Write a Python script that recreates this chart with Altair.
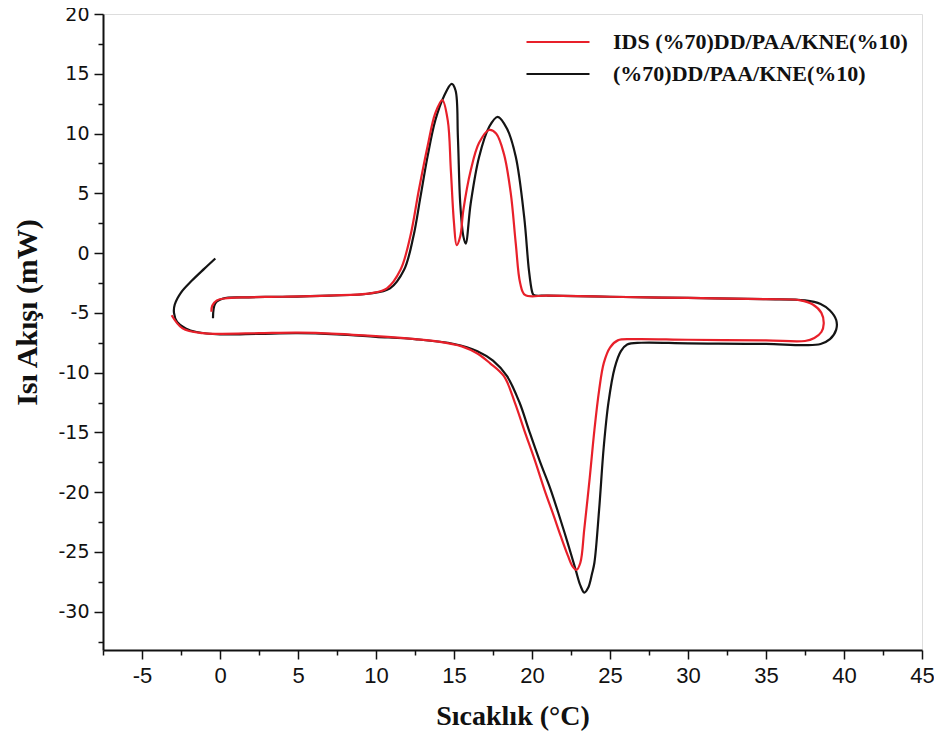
import altair as alt
import pandas as pd

RED_NAME = "IDS (%70)DD/PAA/KNE(%10)"
BLK_NAME = "(%70)DD/PAA/KNE(%10)"

# Black curve (without IDS): path order
blk_x = [-0.3, -1.0, -1.8, -2.5, -2.9, -2.95, -2.75, -2.2, -1.5, 0.0, 2.5, 5.0, 7.5, 10.0, 12.5, 15.0,
         16.5, 17.5, 18.4, 19.2, 19.8, 20.5, 21.2, 21.8, 22.3, 22.8, 23.1, 23.35, 23.6, 23.85, 24.0,
         24.3, 24.6, 24.9, 25.3, 25.7, 26.1, 27.0, 30.0, 35.0, 37.5, 38.5, 39.1, 39.5, 39.5, 39.1,
         38.5, 37.5, 35.0, 30.0, 25.0, 21.0, 20.1, 20.0, 19.8, 19.5, 18.96, 18.4, 17.8, 17.25, 16.6,
         16.07, 15.75, 15.6, 15.4, 15.25, 15.1, 14.85, 14.35, 13.8, 13.3, 12.85, 12.4, 11.8, 10.9,
         9.5, 7.0, 4.0, 1.5, 0.2, -0.3, -0.45]
blk_y = [-0.45, -1.3, -2.3, -3.3, -4.3, -5.0, -5.75, -6.3, -6.6, -6.8, -6.75, -6.7, -6.8, -7.0, -7.2, -7.6,
         -8.2, -9.0, -10.3, -12.5, -14.8, -17.4, -19.8, -22.2, -24.3, -26.5, -27.8, -28.4, -28.0, -26.8, -25.9,
         -21.5, -16.2, -12.5, -9.6, -8.2, -7.65, -7.5, -7.55, -7.6, -7.7, -7.6, -7.2, -6.4, -5.6, -4.8,
         -4.25, -3.95, -3.85, -3.75, -3.65, -3.55, -3.5, -3.2, -1.4, 3.0, 8.05, 10.4, 11.4, 10.55, 8.0,
         4.15, 0.8, 1.4, 4.15, 9.7, 13.6, 14.15, 13.1, 11.1, 8.05, 4.7, 1.4, -1.4, -2.95,
         -3.4, -3.55, -3.65, -3.7, -3.8, -4.2, -5.45]

# Red curve (with IDS): path order
red_x = [-3.1, -2.4, -1.1, 0.0, 2.5, 5.0, 7.5, 10.0, 12.5, 14.0, 15.5, 16.5, 17.3, 18.2, 18.9, 19.5,
         20.2, 20.8, 21.4, 21.85, 22.3, 22.6, 22.85, 23.1, 23.35, 23.7, 24.0, 24.3, 24.6, 25.0, 25.5,
         26.5, 30.0, 35.0, 37.5, 38.1, 38.55, 38.7, 38.55, 38.0, 37.2, 35.0, 30.0, 25.0, 21.0, 19.55,
         19.24, 18.96, 18.64, 18.2, 17.7, 17.25, 16.6, 16.07, 15.6, 15.4, 15.17, 15.0, 14.8, 14.6,
         14.25, 13.8, 13.3, 12.75, 12.2, 11.57, 10.7, 9.64, 7.0, 4.0, 1.5, 0.3, -0.2, -0.5, -0.55]
red_y = [-5.2, -6.3, -6.7, -6.75, -6.7, -6.65, -6.75, -6.95, -7.2, -7.4, -7.8, -8.4, -9.2, -10.3, -12.5, -14.8,
         -17.4, -19.8, -22.0, -23.7, -25.3, -26.2, -26.5, -25.9, -23.1, -18.8, -14.8, -11.5, -9.2, -7.9, -7.3,
         -7.2, -7.25, -7.3, -7.35, -7.1, -6.6, -5.9, -5.0, -4.3, -3.95, -3.85, -3.75, -3.65, -3.55, -3.5,
         -2.5, 0.8, 5.0, 8.3, 10.0, 10.3, 9.2, 6.9, 3.6, 1.4, 0.67, 2.5, 6.9, 11.1,
         12.8, 11.7, 8.9, 5.3, 1.4, -1.4, -2.95, -3.37, -3.55, -3.65, -3.7, -3.8, -3.95, -4.4, -4.9]

x_major = [-5, 0, 5, 10, 15, 20, 25, 30, 35, 40, 45]
x_minor = [-7.5, -2.5, 2.5, 7.5, 12.5, 17.5, 22.5, 27.5, 32.5, 37.5, 42.5]
y_major = [-30, -25, -20, -15, -10, -5, 0, 5, 10, 15, 20]
y_minor = [-32.5, -27.5, -22.5, -17.5, -12.5, -7.5, -2.5, 2.5, 7.5, 12.5, 17.5]

df_blk = pd.DataFrame({"x": blk_x, "y": blk_y, "series": BLK_NAME, "i": range(len(blk_x))})
df_red = pd.DataFrame({"x": red_x, "y": red_y, "series": RED_NAME, "i": range(len(red_x))})

INK = "#111111"
HYPHEN = "replace(datum.label, '\u2212', '-')"

xscale = alt.Scale(domain=[-7.5, 45], nice=False, zero=False)
yscale = alt.Scale(domain=[-33.2, 20], nice=False, zero=False)
color = alt.Color("series:N",
                  scale=alt.Scale(domain=[RED_NAME, BLK_NAME], range=["#e8202a", "#141414"]),
                  legend=alt.Legend(title=None, orient="none", legendX=438, legendY=11,
                                    symbolType="M-2,0H2", symbolSize=992, symbolStrokeWidth=2,
                                    symbolFillColor="transparent",
                                    labelFont="Liberation Serif", labelFontWeight="bold",
                                    labelFontSize=22, labelColor=INK, labelLimit=600,
                                    labelOffset=38, rowPadding=4))

x_major_axis = alt.Axis(values=x_major, title="Sıcaklık (°C)", grid=False, tickSize=9, tickWidth=1.5,
                        domainWidth=2, domainColor=INK, tickColor=INK, labelFlush=False,
                        labelExpr=HYPHEN,
                        labelFont="Liberation Sans Narrow, Liberation Sans", labelFontSize=22,
                        labelColor=INK, labelPadding=6, titleFont="Liberation Serif",
                        titleFontWeight="bold", titleFontSize=28, titleColor=INK, titlePadding=16,
                        orient="bottom")
y_major_axis = alt.Axis(values=y_major, title="Isı Akışı (mW)", grid=False, tickSize=9, tickWidth=1.5,
                        domainWidth=2, domainColor=INK, tickColor=INK, labelFlush=False,
                        labelExpr=HYPHEN,
                        labelFont="DejaVu Sans", labelFontSize=19, labelColor=INK, labelPadding=5,
                        titleFont="Liberation Serif", titleFontWeight="bold", titleFontSize=30,
                        titleColor=INK, titlePadding=15, titleY=298, orient="left")
x_minor_axis = alt.Axis(values=x_minor, title=None, labels=False, domain=False, grid=False, tickSize=5,
                        tickWidth=1.5, tickColor=INK, orient="bottom")
y_minor_axis = alt.Axis(values=y_minor, title=None, labels=False, domain=False, grid=False, tickSize=5,
                        tickWidth=1.5, tickColor=INK, orient="left")

black = alt.Chart(df_blk).mark_line(strokeWidth=2.2, interpolate="catmull-rom").encode(
    x=alt.X("x:Q", scale=xscale, axis=x_major_axis),
    y=alt.Y("y:Q", scale=yscale, axis=y_major_axis),
    color=color,
    order="i:Q",
)
red = alt.Chart(df_red).mark_line(strokeWidth=2.2, interpolate="catmull-rom").encode(
    x=alt.X("x:Q", scale=xscale, axis=x_minor_axis),
    y=alt.Y("y:Q", scale=yscale, axis=y_minor_axis),
    color=color,
    order="i:Q",
)

chart = alt.layer(black, red).resolve_axis(x="independent", y="independent").properties(
    width=819, height=636,
    autosize=alt.AutoSizeParams(type="none"),
    padding={"left": 95, "top": 6, "right": 12, "bottom": 90},
).configure_view(stroke=INK, strokeWidth=2).configure(background="white")

chart.save("out.html", embed_options={"renderer": "svg", "actions": False})
